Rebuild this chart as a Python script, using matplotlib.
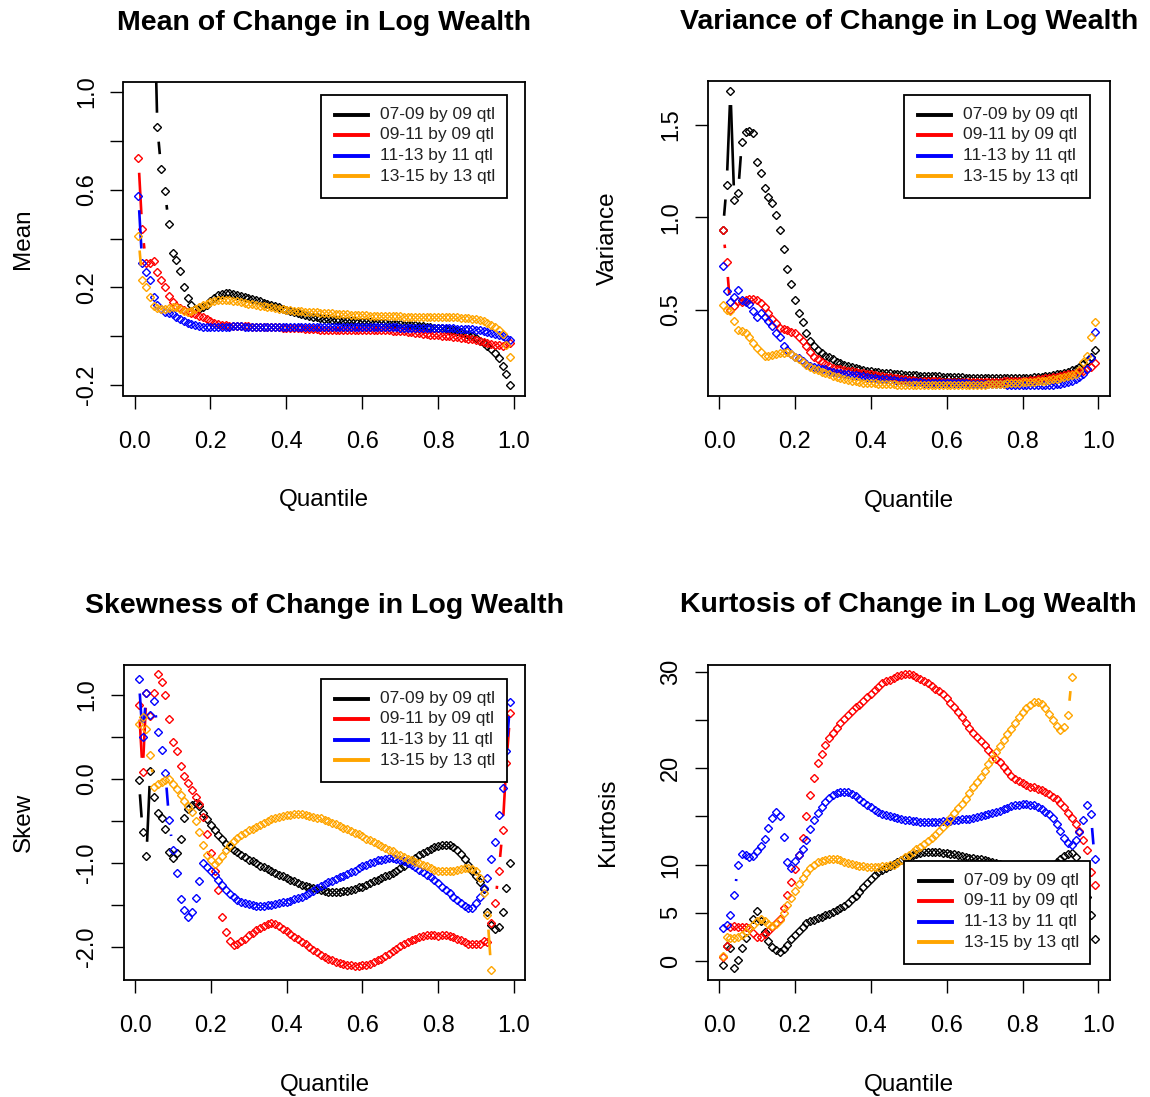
import numpy as np
import matplotlib
matplotlib.use("Agg")
import matplotlib.pyplot as plt
from matplotlib.collections import LineCollection
from matplotlib.lines import Line2D
from matplotlib.patches import Rectangle

plt.rcParams['font.family'] = ['Liberation Sans', 'DejaVu Sans']

# -------- data (quantile grid 0.01 .. 0.99) --------
quantile = np.arange(1, 100) / 100.0

series_labels = ["07-09 by 09 qtl", "09-11 by 09 qtl", "11-13 by 11 qtl", "13-15 by 13 qtl"]
series_colors = ["black", "red", "blue", "orange"]

mean_0709 = [3.2, 2.7, 2.2, 1.8, 1.5, 0.855, 0.686, 0.596, 0.459, 0.342,
             0.311, 0.266, 0.20, 0.157, 0.13, 0.112, 0.11, 0.118, 0.13, 0.145,
             0.158, 0.168, 0.174, 0.178, 0.177, 0.174, 0.170, 0.166, 0.162, 0.158,
             0.153, 0.148, 0.143, 0.138, 0.133, 0.128, 0.123, 0.118, 0.113, 0.108,
             0.103, 0.098, 0.094, 0.090, 0.087, 0.083, 0.080, 0.077, 0.074, 0.072,
             0.070, 0.068, 0.066, 0.065, 0.064, 0.063, 0.062, 0.061, 0.060, 0.059,
             0.058, 0.057, 0.056, 0.055, 0.054, 0.053, 0.052, 0.051, 0.050, 0.049,
             0.048, 0.047, 0.046, 0.045, 0.044, 0.042, 0.040, 0.038, 0.036, 0.034,
             0.032, 0.030, 0.027, 0.024, 0.020, 0.016, 0.011, 0.006, 0.000, -0.008,
             -0.018, -0.027, -0.038, -0.052, -0.068, -0.090, -0.120, -0.155, -0.200]
mean_0911 = [0.728, 0.44, 0.30, 0.30, 0.31, 0.265, 0.23, 0.20, 0.165, 0.14,
             0.125, 0.115, 0.107, 0.100, 0.095, 0.090, 0.085, 0.080, 0.070, 0.062,
             0.056, 0.050, 0.047, 0.045, 0.044, 0.043, 0.042, 0.042, 0.041, 0.041,
             0.040, 0.040, 0.039, 0.039, 0.038, 0.038, 0.037, 0.037, 0.036, 0.036,
             0.035, 0.034, 0.033, 0.032, 0.031, 0.030, 0.029, 0.028, 0.027, 0.027,
             0.026, 0.026, 0.026, 0.026, 0.025, 0.025, 0.025, 0.025, 0.025, 0.025,
             0.025, 0.025, 0.025, 0.024, 0.024, 0.024, 0.024, 0.023, 0.023, 0.022,
             0.020, 0.018, 0.016, 0.014, 0.012, 0.010, 0.008, 0.006, 0.005, 0.004,
             0.002, 0.001, 0.000, -0.002, -0.004, -0.006, -0.008, -0.010, -0.013, -0.016,
             -0.020, -0.024, -0.028, -0.032, -0.035, -0.037, -0.038, -0.033, -0.028]
mean_1113 = [0.575, 0.30, 0.265, 0.23, 0.16, 0.13, 0.11, 0.10, 0.095, 0.09,
             0.08, 0.07, 0.062, 0.055, 0.05, 0.045, 0.042, 0.040, 0.039, 0.038,
             0.038, 0.038, 0.039, 0.040, 0.040, 0.041, 0.041, 0.041, 0.040, 0.040,
             0.040, 0.040, 0.040, 0.040, 0.039, 0.039, 0.039, 0.039, 0.039, 0.039,
             0.039, 0.039, 0.039, 0.039, 0.039, 0.039, 0.039, 0.039, 0.039, 0.039,
             0.039, 0.039, 0.039, 0.039, 0.039, 0.039, 0.039, 0.039, 0.038, 0.038,
             0.038, 0.038, 0.038, 0.038, 0.038, 0.037, 0.037, 0.037, 0.037, 0.036,
             0.036, 0.036, 0.036, 0.035, 0.035, 0.035, 0.034, 0.034, 0.034, 0.033,
             0.033, 0.033, 0.032, 0.032, 0.031, 0.031, 0.030, 0.029, 0.028, 0.027,
             0.025, 0.022, 0.019, 0.015, 0.010, 0.005, 0.000, -0.008, -0.015]
mean_1315 = [0.41, 0.23, 0.20, 0.16, 0.125, 0.115, 0.112, 0.113, 0.115, 0.118,
             0.118, 0.112, 0.105, 0.100, 0.105, 0.113, 0.120, 0.127, 0.134, 0.140,
             0.145, 0.148, 0.150, 0.150, 0.148, 0.146, 0.143, 0.140, 0.137, 0.134,
             0.131, 0.128, 0.125, 0.122, 0.120, 0.118, 0.115, 0.113, 0.111, 0.109,
             0.107, 0.105, 0.104, 0.102, 0.101, 0.100, 0.099, 0.098, 0.097, 0.096,
             0.095, 0.094, 0.093, 0.092, 0.091, 0.090, 0.089, 0.088, 0.087, 0.086,
             0.086, 0.085, 0.085, 0.084, 0.084, 0.083, 0.083, 0.082, 0.082, 0.082,
             0.081, 0.081, 0.081, 0.080, 0.080, 0.080, 0.079, 0.079, 0.079, 0.078,
             0.078, 0.078, 0.077, 0.077, 0.077, 0.076, 0.075, 0.074, 0.072, 0.070,
             0.066, 0.061, 0.055, 0.047, 0.038, 0.025, 0.010, -0.035, -0.085]

var_0709 = [0.93, 1.175, 1.687, 1.094, 1.13, 1.41, 1.465, 1.47, 1.455, 1.30,
            1.24, 1.16, 1.11, 1.08, 1.01, 0.93, 0.83, 0.72, 0.64, 0.55,
            0.48, 0.43, 0.37, 0.33, 0.30, 0.28, 0.262, 0.25, 0.24, 0.23,
            0.215, 0.208, 0.20, 0.195, 0.188, 0.182, 0.177, 0.172, 0.168, 0.165,
            0.162, 0.160, 0.158, 0.156, 0.154, 0.152, 0.150, 0.148, 0.146, 0.145,
            0.144, 0.143, 0.142, 0.141, 0.140, 0.139, 0.138, 0.137, 0.136, 0.136,
            0.135, 0.134, 0.133, 0.132, 0.131, 0.130, 0.130, 0.129, 0.128, 0.128,
            0.127, 0.127, 0.127, 0.127, 0.127, 0.127, 0.127, 0.128, 0.128, 0.129,
            0.130, 0.131, 0.132, 0.134, 0.136, 0.138, 0.141, 0.144, 0.148, 0.152,
            0.157, 0.163, 0.170, 0.178, 0.190, 0.205, 0.222, 0.245, 0.28]
var_0911 = [0.93, 0.755, 0.50, 0.52, 0.545, 0.54, 0.55, 0.555, 0.555, 0.55,
            0.535, 0.515, 0.48, 0.45, 0.425, 0.40, 0.395, 0.39, 0.38, 0.37,
            0.35, 0.33, 0.30, 0.27, 0.245, 0.23, 0.215, 0.205, 0.195, 0.185,
            0.180, 0.176, 0.172, 0.168, 0.164, 0.160, 0.157, 0.154, 0.151, 0.148,
            0.145, 0.142, 0.139, 0.136, 0.133, 0.130, 0.127, 0.124, 0.121, 0.118,
            0.116, 0.115, 0.114, 0.113, 0.112, 0.111, 0.110, 0.110, 0.109, 0.109,
            0.109, 0.109, 0.109, 0.109, 0.109, 0.109, 0.109, 0.109, 0.109, 0.109,
            0.109, 0.109, 0.109, 0.109, 0.110, 0.110, 0.111, 0.111, 0.112, 0.113,
            0.115, 0.117, 0.119, 0.121, 0.124, 0.127, 0.130, 0.133, 0.136, 0.140,
            0.144, 0.148, 0.152, 0.157, 0.162, 0.168, 0.175, 0.188, 0.21]
var_1113 = [0.735, 0.60, 0.54, 0.57, 0.605, 0.55, 0.54, 0.53, 0.49, 0.46,
            0.48, 0.46, 0.44, 0.41, 0.37, 0.35, 0.30, 0.28, 0.26, 0.245,
            0.235, 0.22, 0.205, 0.195, 0.19, 0.185, 0.18, 0.175, 0.168, 0.162,
            0.158, 0.155, 0.152, 0.149, 0.146, 0.143, 0.140, 0.137, 0.134, 0.130,
            0.127, 0.125, 0.123, 0.121, 0.119, 0.117, 0.115, 0.113, 0.111, 0.109,
            0.107, 0.106, 0.105, 0.104, 0.103, 0.102, 0.101, 0.100, 0.100, 0.100,
            0.100, 0.100, 0.100, 0.099, 0.099, 0.098, 0.098, 0.097, 0.097, 0.096,
            0.096, 0.095, 0.095, 0.094, 0.094, 0.093, 0.093, 0.092, 0.092, 0.091,
            0.091, 0.091, 0.090, 0.090, 0.090, 0.090, 0.091, 0.092, 0.094, 0.097,
            0.100, 0.105, 0.112, 0.122, 0.135, 0.152, 0.180, 0.235, 0.38]
var_1315 = [0.525, 0.50, 0.49, 0.44, 0.39, 0.385, 0.37, 0.35, 0.32, 0.29,
            0.27, 0.25, 0.25, 0.255, 0.26, 0.265, 0.265, 0.27, 0.26, 0.245,
            0.23, 0.215, 0.20, 0.19, 0.18, 0.17, 0.162, 0.155, 0.148, 0.14,
            0.135, 0.128, 0.122, 0.118, 0.114, 0.110, 0.107, 0.104, 0.102, 0.100,
            0.099, 0.098, 0.097, 0.096, 0.095, 0.094, 0.093, 0.092, 0.091, 0.090,
            0.090, 0.090, 0.090, 0.090, 0.090, 0.090, 0.090, 0.090, 0.090, 0.090,
            0.090, 0.090, 0.090, 0.090, 0.090, 0.090, 0.091, 0.091, 0.092, 0.093,
            0.094, 0.095, 0.096, 0.097, 0.098, 0.100, 0.101, 0.102, 0.104, 0.105,
            0.106, 0.108, 0.109, 0.111, 0.113, 0.115, 0.118, 0.121, 0.124, 0.128,
            0.132, 0.137, 0.143, 0.152, 0.170, 0.215, 0.25, 0.35, 0.43]

skew_0709 = [-0.01, -0.63, -0.92, 0.09, -0.22, -0.40, -0.46, -0.60, -0.87, -0.94,
             -0.88, -0.72, -0.46, -0.36, -0.31, -0.28, -0.32, -0.40, -0.48, -0.55,
             -0.61, -0.67, -0.72, -0.77, -0.81, -0.84, -0.87, -0.90, -0.93, -0.96,
             -0.98, -1.00, -1.03, -1.05, -1.07, -1.09, -1.12, -1.14, -1.16, -1.18,
             -1.20, -1.22, -1.24, -1.26, -1.27, -1.29, -1.30, -1.31, -1.32, -1.33,
             -1.34, -1.34, -1.34, -1.34, -1.33, -1.33, -1.32, -1.31, -1.29, -1.28,
             -1.26, -1.24, -1.22, -1.20, -1.18, -1.16, -1.14, -1.12, -1.09, -1.06,
             -1.03, -1.00, -0.97, -0.94, -0.91, -0.88, -0.86, -0.83, -0.81, -0.80,
             -0.79, -0.79, -0.79, -0.81, -0.84, -0.89, -0.95, -1.02, -1.09, -1.16,
             -1.23, -1.31, -1.58, -1.74, -1.78, -1.76, -1.58, -1.30, -1.00]
skew_0911 = [0.88, 0.08, 1.02, 0.75, 1.02, 1.25, 1.16, 1.00, 0.72, 0.44,
             0.33, 0.15, 0.03, -0.05, -0.13, -0.21, -0.30, -0.45, -0.65, -0.88,
             -1.10, -1.32, -1.64, -1.82, -1.93, -1.98, -1.96, -1.93, -1.90, -1.86,
             -1.83, -1.80, -1.77, -1.75, -1.73, -1.72, -1.73, -1.75, -1.78, -1.81,
             -1.85, -1.88, -1.91, -1.94, -1.97, -2.00, -2.03, -2.06, -2.09, -2.12,
             -2.14, -2.16, -2.18, -2.19, -2.20, -2.21, -2.22, -2.23, -2.23, -2.22,
             -2.21, -2.20, -2.18, -2.16, -2.14, -2.11, -2.08, -2.05, -2.02, -1.99,
             -1.96, -1.94, -1.92, -1.90, -1.88, -1.87, -1.86, -1.86, -1.86, -1.87,
             -1.86, -1.86, -1.87, -1.88, -1.90, -1.92, -1.94, -1.96, -1.97, -1.97,
             -1.96, -1.93, -1.94, -1.72, -1.48, -1.10, -0.61, 0.19, 0.78]
skew_1113 = [1.19, 0.50, 1.02, 0.76, 0.93, 0.56, 0.35, 0.07, -0.49, -0.85,
             -1.12, -1.43, -1.56, -1.64, -1.58, -1.42, -1.22, -1.00, -1.05, -1.10,
             -1.14, -1.20, -1.26, -1.32, -1.37, -1.41, -1.44, -1.47, -1.48, -1.49,
             -1.50, -1.51, -1.51, -1.51, -1.50, -1.50, -1.49, -1.48, -1.47, -1.46,
             -1.45, -1.43, -1.42, -1.40, -1.38, -1.36, -1.33, -1.30, -1.27, -1.25,
             -1.23, -1.21, -1.19, -1.17, -1.15, -1.13, -1.11, -1.09, -1.06, -1.04,
             -1.02, -1.00, -0.99, -0.97, -0.96, -0.95, -0.94, -0.94, -0.95, -0.96,
             -0.98, -1.00, -1.02, -1.05, -1.08, -1.11, -1.14, -1.17, -1.20, -1.24,
             -1.28, -1.32, -1.36, -1.40, -1.44, -1.48, -1.51, -1.54, -1.53, -1.48,
             -1.40, -1.30, -1.18, -0.95, -0.75, -0.43, -0.11, 0.33, 0.92]
skew_1315 = [0.66, 0.74, 0.60, 0.29, -0.09, -0.06, -0.03, -0.01, 0.00, -0.06,
             -0.12, -0.19, -0.26, -0.32, -0.39, -0.50, -0.63, -0.78, -0.90, -0.97,
             -1.01, -0.98, -0.92, -0.85, -0.79, -0.74, -0.70, -0.67, -0.64, -0.61,
             -0.59, -0.57, -0.55, -0.52, -0.50, -0.48, -0.47, -0.45, -0.44, -0.43,
             -0.43, -0.42, -0.42, -0.42, -0.43, -0.44, -0.45, -0.46, -0.47, -0.49,
             -0.50, -0.52, -0.54, -0.56, -0.58, -0.60, -0.62, -0.64, -0.66, -0.68,
             -0.71, -0.73, -0.75, -0.77, -0.80, -0.82, -0.84, -0.86, -0.89, -0.91,
             -0.93, -0.95, -0.97, -0.99, -1.00, -1.02, -1.04, -1.06, -1.08, -1.09,
             -1.10, -1.10, -1.10, -1.09, -1.08, -1.07, -1.06, -1.06, -1.07, -1.10,
             -1.18, -1.36, -1.62, -2.27, np.nan, np.nan, np.nan, np.nan, np.nan]

kurt_0709 = [-0.45, 1.6, 1.3, -0.76, 0.1, 1.3, 2.35, 3.4, 4.4, 5.2,
             4.1, 3.0, 2.1, 1.5, 1.1, 0.95, 1.2, 1.7, 2.3, 2.7,
             3.1, 3.5, 3.9, 4.1, 4.25, 4.45, 4.6, 4.75, 4.9, 5.1,
             5.3, 5.5, 5.75, 6.05, 6.4, 6.75, 7.2, 7.7, 8.1, 8.5,
             8.9, 9.2, 9.45, 9.7, 9.9, 10.1, 10.3, 10.5, 10.65, 10.8,
             10.95, 11.1, 11.2, 11.3, 11.34, 11.34, 11.32, 11.28, 11.22, 11.16,
             11.1, 11.05, 11.0, 10.9, 10.8, 10.7, 10.65, 10.6, 10.55, 10.45,
             10.4, 10.3, 10.2, 10.1, 10.0, 9.9, 9.85, 9.8, 9.75, 9.7,
             9.65, 9.6, 9.6, 9.6, 9.65, 9.7, 9.8, 10.0, 10.3, 10.6,
             10.9, 11.1, 11.2, 10.8, 9.9, 8.4, 6.6, 4.8, 2.3]
kurt_0911 = [0.45, 1.6, 3.5, 3.6, 3.55, 3.55, 3.5, 3.4, 2.9, 2.5,
             2.5, 2.8, 3.1, 3.5, 3.9, 4.4, 5.5, 6.8, 8.2, 9.5,
             11.0, 12.8, 15.0, 17.2, 19.0, 20.5, 21.5, 22.4, 23.1, 23.7,
             24.2, 24.7, 25.1, 25.5, 25.9, 26.3, 26.6, 27.0, 27.4, 27.7,
             28.1, 28.4, 28.8, 29.0, 29.2, 29.4, 29.6, 29.7, 29.8, 29.8,
             29.7, 29.5, 29.3, 29.0, 28.8, 28.5, 28.2, 28.0, 27.7, 27.3,
             26.8, 26.3, 25.8, 25.3, 24.7, 24.2, 23.7, 23.2, 22.8, 22.4,
             21.9, 21.5, 21.0, 20.6, 20.1, 19.7, 19.2, 18.9, 18.7, 18.5,
             18.3, 18.1, 18.0, 17.8, 17.7, 17.5, 17.3, 17.0, 16.8, 16.4,
             16.0, 15.4, 14.8, 14.2, 13.5, 12.6, 11.5, 9.2, 7.9]
kurt_1113 = [3.4, 3.7, 4.8, 6.8, 10.0, 11.1, 11.0, 10.8, 10.9, 11.4,
             11.9, 12.7, 13.8, 14.8, 15.5, 15.0, 12.9, 10.3, 9.6, 10.4,
             11.0, 11.6, 12.6, 13.7, 14.6, 15.4, 16.0, 16.5, 16.9, 17.2,
             17.4, 17.55, 17.55, 17.5, 17.3, 17.1, 16.8, 16.5, 16.2, 16.0,
             15.7, 15.5, 15.3, 15.1, 15.0, 14.9, 14.8, 14.7, 14.6, 14.6,
             14.55, 14.5, 14.45, 14.4, 14.4, 14.4, 14.4, 14.45, 14.5, 14.5,
             14.55, 14.6, 14.65, 14.7, 14.7, 14.75, 14.8, 14.9, 15.0, 15.1,
             15.25, 15.35, 15.5, 15.6, 15.75, 15.9, 16.05, 16.15, 16.2, 16.25,
             16.25, 16.2, 16.15, 16.0, 15.8, 15.5, 15.2, 14.8, 14.2, 13.5,
             12.8, 12.2, 12.0, 12.6, 13.4, 14.6, 16.2, 15.3, 10.6]
kurt_1315 = [0.5, 2.45, 2.42, 2.42, 2.45, 2.7, 3.0, 3.4, 3.7, 4.15,
             4.4, 4.1, 3.8, 3.6, 3.8, 4.3, 5.0, 5.8, 6.5, 7.3,
             8.0, 8.6, 9.1, 9.6, 10.0, 10.25, 10.35, 10.45, 10.6, 10.6,
             10.55, 10.45, 10.3, 10.2, 10.1, 10.0, 9.9, 9.85, 9.8, 9.8,
             9.8, 9.8, 9.85, 9.9, 9.95, 10.0, 10.2, 10.5, 10.75, 11.0,
             11.3, 11.6, 11.8, 12.1, 12.4, 12.75, 13.1, 13.5, 13.9, 14.3,
             14.8, 15.4, 15.9, 16.3, 16.8, 17.4, 18.0, 18.6, 19.1, 19.7,
             20.4, 21.0, 21.7, 22.3, 22.9, 23.5, 24.1, 24.7, 25.3, 25.8,
             26.2, 26.6, 26.85, 26.9, 26.7, 26.2, 25.6, 25.0, 24.4, 24.0,
             24.3, 25.5, 29.5, np.nan, np.nan, np.nan, np.nan, np.nan, np.nan]

# -------- layout (image pixels) --------
W, H = 1150, 1097
GAP_PX = 14.5          # R type="b" leaves a gap around every point

panels = [
    dict(title="Mean of Change in Log Wealth", ylabel="Mean",
         data=[mean_0709, mean_0911, mean_1113, mean_1315],
         ylim=(-0.242, 1.042), yticks=[-0.2, 0, 0.2, 0.4, 0.6, 0.8, 1.0],
         ylabels=["-0.2", "", "0.2", "", "0.6", "", "1.0"],
         box=(123.5, 81.5, 525, 395.5), legend=(320.7, 95)),
    dict(title="Variance of Change in Log Wealth", ylabel="Variance",
         data=[var_0709, var_0911, var_1113, var_1315],
         ylim=(0.031, 1.739), yticks=[0.5, 1.0, 1.5],
         ylabels=["0.5", "1.0", "1.5"],
         box=(708, 81, 1109.5, 396), legend=(904, 95)),
    dict(title="Skewness of Change in Log Wealth", ylabel="Skew",
         data=[skew_0709, skew_0911, skew_1113, skew_1315],
         ylim=(-2.393, 1.357), yticks=[-2.0, -1.5, -1.0, -0.5, 0.0, 0.5, 1.0],
         ylabels=["-2.0", "", "-1.0", "", "0.0", "", "1.0"],
         box=(124, 665, 525, 980), legend=(320.7, 679)),
    dict(title="Kurtosis of Change in Log Wealth", ylabel="Kurtosis",
         data=[kurt_0709, kurt_0911, kurt_1113, kurt_1315],
         ylim=(-1.97, 30.76), yticks=[0, 5, 10, 15, 20, 25, 30],
         ylabels=["0", "5", "10", "", "20", "", "30"],
         box=(708, 664.5, 1109.5, 980), legend=(904.3, 861)),
]


def draw_type_b(ax, x, y, color):
    # points plus connecting segments, trimmed around each point like R's type="b"
    y = np.asarray(y, dtype=float)
    pts = ax.transData.transform(np.column_stack([x, y]))
    inv = ax.transData.inverted()
    segs = []
    for i in range(len(x) - 1):
        p0, p1 = pts[i], pts[i + 1]
        if np.isnan(p0).any() or np.isnan(p1).any():
            continue
        d = np.hypot(*(p1 - p0))
        if d <= 2 * GAP_PX:
            continue
        u = (p1 - p0) / d
        segs.append(inv.transform([p0 + u * GAP_PX, p1 - u * GAP_PX]))
    ax.add_collection(LineCollection(segs, colors=color, linewidths=1.9))
    ax.plot(x, y, ls="none", marker="D", ms=4.0, mfc="none", mec=color, mew=1.0)


def draw_legend(fig, left, top):
    lw_, lh_ = 186, 103
    fig.add_artist(Rectangle((left / W, 1 - (top + lh_) / H), lw_ / W, lh_ / H,
                             transform=fig.transFigure, facecolor="white",
                             edgecolor="black", linewidth=1.3, zorder=10))
    for k, (lab, col) in enumerate(zip(series_labels, series_colors)):
        yy = 1 - (top + 19.5 + 20.5 * k) / H
        fig.add_artist(Line2D([(left + 14.3) / W, (left + 47.3) / W], [yy, yy],
                              transform=fig.transFigure, color=col,
                              linewidth=2.8, zorder=11))
        fig.text((left + 59.3) / W, yy, lab, fontsize=12.5, color="#222222",
                 ha="left", va="center", zorder=12)


fig = plt.figure(figsize=(W / 100, H / 100), dpi=100)

for p in panels:
    l, t, r, b = p["box"]
    pw, ph = r - l, b - t
    ax = fig.add_axes([l / W, 1 - b / H, pw / W, ph / H])
    ax.set_xlim(-0.0292, 1.0292)
    ax.set_ylim(*p["ylim"])
    ax.set_xticks([0, 0.2, 0.4, 0.6, 0.8, 1.0])
    ax.set_xticklabels(["0.0", "0.2", "0.4", "0.6", "0.8", "1.0"])
    ax.set_yticks(p["yticks"])
    ax.set_yticklabels(p["ylabels"], rotation=90, va="center")
    ax.tick_params(axis="both", direction="out", length=9.5, width=1.0,
                   labelsize=17)
    ax.tick_params(axis="x", pad=16)
    ax.tick_params(axis="y", pad=9)
    for s in ax.spines.values():
        s.set_linewidth(1.3)

    for vals, col in zip(p["data"], series_colors):
        draw_type_b(ax, quantile, vals, col)

    # axis titles and main title, offsets in pixels from the plot box
    ax.set_xlabel("Quantile", fontsize=17.5)
    ax.xaxis.set_label_coords(0.5, -104.5 / ph)
    ax.xaxis.label.set_va("center")
    ax.set_ylabel(p["ylabel"], fontsize=17.5)
    ax.yaxis.set_label_coords(-100.0 / pw, 0.5)
    ax.yaxis.label.set_va("center")
    ax.text(0.5, 1 + 59.0 / ph, p["title"], transform=ax.transAxes,
            ha="center", va="center", fontsize=20.5, fontweight="bold")

    draw_legend(fig, *p["legend"])

fig.savefig("out.png", dpi=100)
